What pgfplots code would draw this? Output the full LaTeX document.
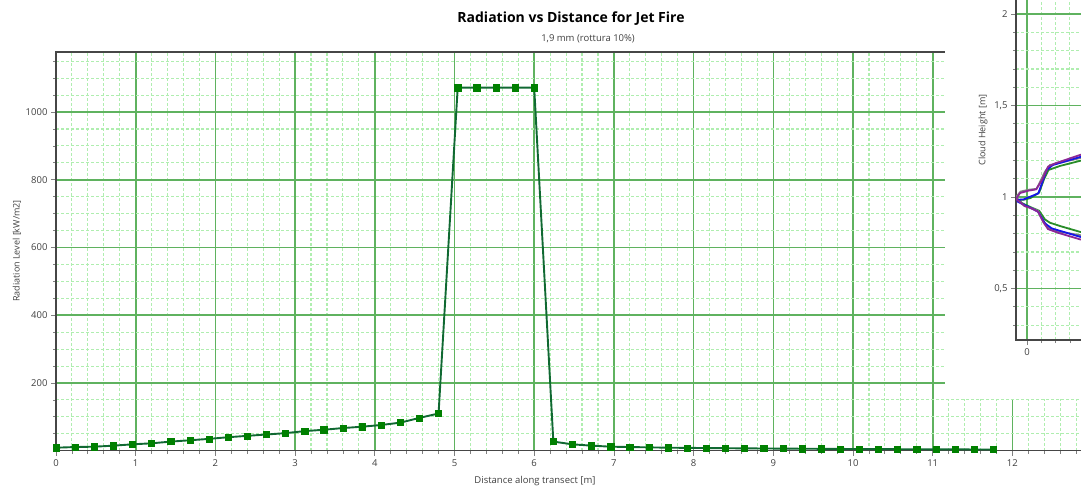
\documentclass[border=0pt]{standalone}
\usepackage{fontspec}
\setmainfont{Open Sans}
\usepackage{pgfplots}
\pgfplotsset{compat=1.18}

\definecolor{gridmaj}{RGB}{95,178,95}
\definecolor{gridmin}{RGB}{175,238,175}
\definecolor{axgray}{RGB}{70,70,70}
\definecolor{txtgray}{RGB}{64,64,64}
\definecolor{serline}{RGB}{16,105,50}
\definecolor{sermark}{RGB}{0,128,0}
\definecolor{cpurple}{RGB}{140,40,150}
\definecolor{cblue}{RGB}{20,20,235}
\definecolor{cgreen}{RGB}{40,140,40}
\definecolor{cgray}{RGB}{130,130,130}

\pgfplotsset{
  chartstyle/.style={
    axis line style={axgray, line width=1.2pt},
    major tick style={line width=0.8pt},
    minor tick style={line width=0.8pt},
    tick align=outside,
    tick pos=left,
    major tick length=5pt,
    minor tick length=3pt,
    grid=both,
    major grid style={solid, color=gridmaj, line width=1.6pt},
    minor grid style={color=gridmin, line width=1.1pt, dash pattern=on 3pt off 2pt},
    tick label style={font=\fontsize{9.5}{11}\selectfont, text=txtgray},
    /pgf/number format/assume math mode=true,
    /pgf/number format/1000 sep={},
    scale only axis,
  },
}

\begin{document}
\begin{tikzpicture}
  \useasboundingbox (0,0) rectangle (1081pt,488pt);
  \clip (0,0) rectangle (1081pt,488pt);

  % main chart
  \begin{axis}[chartstyle,
    at={(56pt,37.25pt)}, anchor=south west,
    x=79.7pt, y=0.3387pt,
    xmin=0, xmax=13.4, ymin=0, ymax=1177,
    xtick={0,1,...,12},
    minor xtick={0.2,0.4,0.6,0.8,1.2,1.4,1.6,1.8,2.2,2.4,2.6,2.8,3.2,3.4,3.6,3.8,
      4.2,4.4,4.6,4.8,5.2,5.4,5.6,5.8,6.2,6.4,6.6,6.8,7.2,7.4,7.6,7.8,
      8.2,8.4,8.6,8.8,9.2,9.4,9.6,9.8,10.2,10.4,10.6,10.8,11.2,11.4,11.6,11.8,
      12.2,12.4,12.6,12.8,13,13.2},
    ytick={200,400,...,1000},
    minor ytick={50,100,150,250,300,350,450,500,550,650,700,750,850,900,950,1050,1100,1150},
    clip mode=individual,
  ]
    \addplot[serline, line width=1.9pt,
      mark=square*, mark size=3.1pt,
      mark options={fill=sermark, draw=sermark, line width=0.5pt}] coordinates {
      (0,9) (0.24,11) (0.48,12) (0.72,15) (0.96,19) (1.2,22) (1.44,27)
      (1.68,31) (1.92,35) (2.16,40) (2.4,44) (2.64,48) (2.88,52) (3.12,58)
      (3.36,62) (3.6,67) (3.84,71) (4.08,76) (4.32,83) (4.56,97) (4.8,110)
      (5.04,1072) (5.28,1072) (5.52,1072) (5.76,1072) (6.0,1072)
      (6.24,27) (6.48,19) (6.72,15) (6.96,12) (7.2,11) (7.44,10) (7.68,9)
      (7.92,8.5) (8.16,8) (8.4,7.5) (8.64,7) (8.88,6.7) (9.12,6.3) (9.36,6)
      (9.6,5.7) (9.84,5.4) (10.08,5.1) (10.32,4.9) (10.56,4.6) (10.8,4.4)
      (11.04,4.2) (11.28,4) (11.52,3.8) (11.76,3.6)
    };
  \end{axis}

  \node[font=\fontsize{14}{16}\selectfont\bfseries] at (571pt,469pt) {Radiation vs Distance for Jet Fire};
  \node[font=\fontsize{9.5}{11}\selectfont, text=txtgray] at (588pt,449pt) {1,9 mm (rottura 10\%)};
  \node[rotate=90, font=\fontsize{9}{10}\selectfont, text=txtgray] at (17pt,237pt) {Radiation Level [kW/m2]};
  \node[font=\fontsize{9.5}{11}\selectfont, text=txtgray] at (535pt,6.5pt) {Distance along transect [m]};

  % overlapping window
  \fill[white] (945pt,89pt) rectangle (1090pt,490pt);

  \begin{axis}[chartstyle,
    at={(1016pt,148pt)}, anchor=south west,
    x=71.5pt, y=183pt,
    xmin=-0.154, xmax=1.0, ymin=0.219, ymax=2.51,
    xtick={0}, minor xtick={0.2,0.4,0.6,0.8,1.0},
    ytick={0.5,1,1.5,2}, yticklabels={{0,5},1,{1,5},2},
    minor ytick={0.3,0.4,0.6,0.7,0.8,0.9,1.1,1.2,1.3,1.4,1.6,1.7,1.8,1.9,2.1,2.2,2.3,2.4},
  ]
    \addplot[cgreen, line width=1.8pt] coordinates {
      (1.0,0.79) (0.741,0.81) (0.46,0.842) (0.32,0.86) (0.25,0.878) (0.17,0.925)
      (0.05,0.945) (-0.07,0.967) (-0.12,0.985) (-0.05,0.985) (0.05,0.995)
      (0.17,1.025) (0.24,1.10) (0.30,1.148) (0.46,1.17) (0.741,1.198) (1.0,1.22)
    };
    \addplot[cgray, line width=1.8pt] coordinates {
      (1.0,0.775) (0.741,0.792) (0.434,0.812) (0.30,0.83) (0.23,0.87) (0.154,0.925)
      (0.05,0.942) (-0.04,0.952) (-0.154,1.0) (-0.09,1.03) (0.02,1.04)
      (0.135,1.045) (0.25,1.138) (0.32,1.175) (0.741,1.213) (1.0,1.24)
    };
    \addplot[cblue, line width=1.8pt] coordinates {
      (1.0,0.765) (0.741,0.783) (0.345,0.829) (0.252,0.856) (0.154,0.92)
      (0.066,0.938) (-0.126,0.974) (-0.14,0.985) (-0.05,0.987) (0.158,1.02)
      (0.275,1.148) (0.36,1.175) (0.741,1.219) (1.0,1.245)
    };
    \addplot[cpurple, line width=1.8pt] coordinates {
      (1.0,0.75) (0.741,0.769) (0.434,0.805) (0.294,0.825) (0.224,0.865)
      (0.154,0.920) (0.05,0.94) (-0.028,0.950) (-0.154,0.99) (-0.098,1.022)
      (0.02,1.035) (0.126,1.042) (0.21,1.093) (0.294,1.166) (0.392,1.184)
      (0.741,1.23) (1.0,1.26)
    };
  \end{axis}
  \node[rotate=90, font=\fontsize{9}{10}\selectfont, text=txtgray] at (983pt,358pt) {Cloud Height [m]};
\end{tikzpicture}
\end{document}
